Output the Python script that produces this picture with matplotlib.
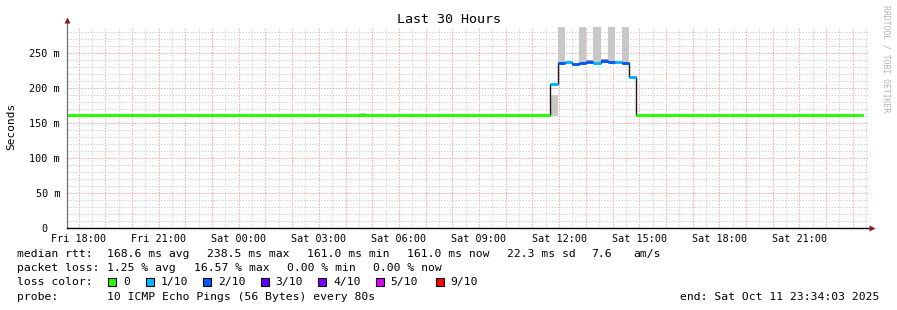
import matplotlib
matplotlib.use("Agg")
import matplotlib.pyplot as plt
from matplotlib.ticker import MultipleLocator, FuncFormatter
from matplotlib.patches import Rectangle

plt.rcParams['font.family'] = ['DejaVu Sans Mono']

W, H = 897, 310

# ---------------- data ----------------
# time axis in hours since Fri 00:00
graph_start_h = 17.5675          # Fri 17:34:03
graph_span_h = 30.0

# median RTT segments (edges in hours, value in ms, loss in tenths)
seg_edges_h = [17.57, 35.67, 35.94, 36.21, 36.47, 36.74, 37.01, 37.28,
               37.55, 37.82, 38.09, 38.35, 38.60, 38.86, 47.38]
seg_median_ms = [161.0, 205.3, 235.3, 236.8, 234.8, 235.7, 237.0, 235.8,
                 238.5, 237.2, 237.0, 235.5, 215.3, 161.0]
seg_loss_tenths = [0, 1, 2, 1, 2, 2, 2, 1, 2, 2, 1, 2, 1, 0]

# smoke (spread of individual pings)
smoke_start_h = [28.50, 35.67, 35.67, 35.94, 36.74, 37.01, 37.28, 37.55, 37.82, 38.35]
smoke_end_h   = [28.76, 35.94, 35.94, 36.21, 37.01, 37.28, 37.55, 37.82, 38.09, 38.60]
smoke_lo_ms   = [161.4, 160.0, 198.0, 236.0, 236.5, 237.5, 236.5, 238.5, 237.5, 236.0]
smoke_hi_ms   = [164.0, 190.0, 200.0, 300.0, 300.0, 240.5, 300.0, 241.0, 300.0, 300.0]
smoke_dark    = [False, False, False, False, False, True, False, True, False, False]

loss_labels = ['0', '1/10', '2/10', '3/10', '4/10', '5/10', '9/10']
loss_tenths = [0, 1, 2, 3, 4, 5, 9]
loss_colors = ['#26ff00', '#00b8ff', '#0059ff', '#5e00ff', '#7e00ff', '#dd00ff', '#ff0000']

rtt_stats = ['168.6 ms avg', '238.5 ms max', '161.0 ms min', '161.0 ms now', '22.3 ms sd']
am_s = '7.6'
loss_stats = ['1.25 % avg', '16.57 % max', '0.00 % min', '0.00 % now']
probe_text = '10 ICMP Echo Pings (56 Bytes) every 80s'
end_text = 'end: Sat Oct 11 23:34:03 2025'
title = 'Last 30 Hours'
ylabel = 'Seconds'

# ---------------- figure ----------------
fig = plt.figure(figsize=(W / 100, H / 100), dpi=100)
fig.patch.set_facecolor('white')


def fp(x, y):
    return x / W, 1 - y / H


ax = fig.add_axes([67 / W, (H - 228) / H, 801 / W, 201 / H])
ax.set_xlim(graph_start_h, graph_start_h + graph_span_h)
ax.set_ylim(0, 287.1)

# grid
ax.xaxis.set_major_locator(MultipleLocator(1))
ax.xaxis.set_minor_locator(MultipleLocator(0.5))
ax.yaxis.set_major_locator(MultipleLocator(50))
ax.yaxis.set_minor_locator(MultipleLocator(10))
ax.set_axisbelow(True)
ax.grid(which='minor', color='#d4d4d4', ls=(0, (1.4, 1.4)), lw=0.75)
ax.grid(which='major', color='#f3a6a6', ls=(0, (1.4, 1.4)), lw=0.75)


def xfmt(h, pos):
    hi = int(round(h))
    if abs(h - hi) > 1e-6 or hi % 3 != 0:
        return ''
    day = 'Fri' if hi < 24 else 'Sat'
    return f'{day} {hi % 24:02d}:00'


def yfmt(v, pos):
    if abs(v) < 1e-9:
        return '0  '
    return f'{int(round(v))} m'


ax.xaxis.set_major_formatter(FuncFormatter(xfmt))
ax.yaxis.set_major_formatter(FuncFormatter(yfmt))
ax.tick_params(which='both', length=0, labelsize=7.3)
ax.tick_params(axis='x', pad=4)
ax.tick_params(axis='y', pad=5)

for s in ['top', 'right', 'left']:
    ax.spines[s].set_visible(False)
ax.spines['bottom'].set_color('black')
ax.spines['bottom'].set_linewidth(1.0)
ax.spines['bottom'].set_bounds(graph_start_h, graph_start_h + graph_span_h * 1.003)
ax.spines['bottom'].set_zorder(5)

# left axis line + arrows
ax.plot([0, 0], [0, 1.035], transform=ax.transAxes, color='#707070', lw=0.9, clip_on=False, zorder=5)
ax.plot([0], [1.035], transform=ax.transAxes, marker='^', ms=4.2, color='#8b1a1a', clip_on=False, zorder=6, mec='none')
ax.plot([1.0055], [0], transform=ax.transAxes, marker='>', ms=4.2, color='#8b1a1a', clip_on=False, zorder=6, mec='none')

# smoke
for s0, s1, lo, hi, dk in zip(smoke_start_h, smoke_end_h, smoke_lo_ms, smoke_hi_ms, smoke_dark):
    ax.bar(s0, hi - lo, bottom=lo, width=s1 - s0, align='edge',
           color='#9a9a9a' if dk else '#c8c8c8', lw=0, zorder=2)

# median line (dark step) + loss-coloured segments
ax.stairs(seg_median_ms, seg_edges_h, baseline=None, color='#1a1a1a', lw=1.0, zorder=3)
col_of = dict(zip(loss_tenths, loss_colors))
for i, (m, l) in enumerate(zip(seg_median_ms, seg_loss_tenths)):
    ax.hlines(m, seg_edges_h[i], seg_edges_h[i + 1], color=col_of[l], lw=2.1, zorder=4)

# texts
fig.text(*fp(448.5, 19.5), title, ha='center', va='center', fontsize=9.6)
fig.text(*fp(11, 126), ylabel, ha='center', va='center', rotation=90, fontsize=8)
fig.text(*fp(886, 5), 'RRDTOOL / TOBI OETIKER', ha='center', va='top', rotation=270,
         fontsize=5.85, color='#b4b4b4')

fs = 8.2
y1, y2, y3, y4 = 254, 268, 282, 297
fig.text(*fp(16.7, y1), 'median rtt:', ha='left', va='center', fontsize=fs)
for x, t in zip([107.3, 207.3, 307.3, 406.7, 507.0], rtt_stats):
    fig.text(*fp(x, y1), t, ha='left', va='center', fontsize=fs)
fig.text(*fp(591.0, y1), am_s, ha='left', va='center', fontsize=fs)
fig.text(*fp(633.5, y1), 'am/s', ha='left', va='center', fontsize=fs)

fig.text(*fp(16.7, y2), 'packet loss:', ha='left', va='center', fontsize=fs)
for x, t in zip([107.3, 194.0, 286.7, 372.7], loss_stats):
    fig.text(*fp(x, y2), t, ha='left', va='center', fontsize=fs)

fig.text(*fp(16.7, y3), 'loss color:', ha='left', va='center', fontsize=fs)
box_x = [108.3, 146.0, 203.3, 261.0, 318.3, 376.0, 436.0]
for bx, lab, c in zip(box_x, loss_labels, loss_colors):
    fig.patches.append(Rectangle(fp(bx, y3 + 4), 8 / W, 8 / H, transform=fig.transFigure,
                                 facecolor=c, edgecolor='black', lw=0.8))
    fig.text(*fp(bx + 14.7, y3), lab, ha='left', va='center', fontsize=fs)

fig.text(*fp(16.7, y4), 'probe:', ha='left', va='center', fontsize=fs)
fig.text(*fp(107.3, y4), probe_text, ha='left', va='center', fontsize=fs)
fig.text(*fp(679.5, y4), end_text, ha='left', va='center', fontsize=fs)

fig.savefig('out.png', dpi=100, facecolor='white')
